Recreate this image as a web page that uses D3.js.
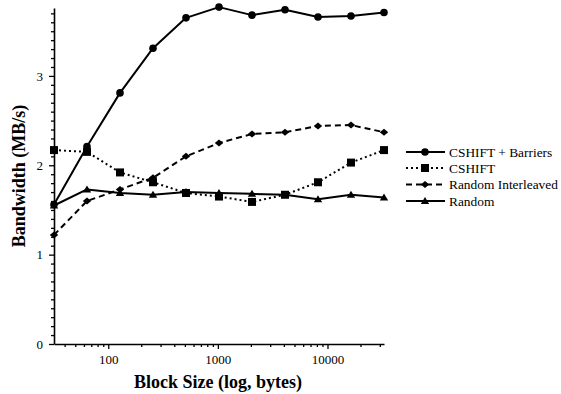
<!DOCTYPE html>
<html>
<head>
<meta charset="utf-8">
<script src="https://cdn.jsdelivr.net/npm/d3@7"></script>
<style>
  html, body { margin: 0; padding: 0; background: #fff; }
  svg { display: block; }
</style>
</head>
<body>
<svg id="chart" width="561" height="394"></svg>
<script>
// Block sizes (bytes) measured
const blockSizes = [32, 64, 128, 256, 512, 1024, 2048, 4096, 8192, 16384, 32768];

// Bandwidth (MB/s) per method
const cshiftBarriers    = [1.56, 2.21, 2.81, 3.31, 3.65, 3.77, 3.68, 3.74, 3.66, 3.67, 3.71];
const cshift            = [2.17, 2.15, 1.92, 1.81, 1.69, 1.65, 1.59, 1.67, 1.81, 2.03, 2.17];
const randomInterleaved = [1.22, 1.60, 1.73, 1.86, 2.10, 2.25, 2.35, 2.37, 2.44, 2.45, 2.37];
const randomAccess      = [1.55, 1.73, 1.69, 1.67, 1.70, 1.69, 1.68, 1.67, 1.62, 1.67, 1.64];

const seriesNames = ["CSHIFT + Barriers", "CSHIFT", "Random Interleaved", "Random"];

const xMajorTicks = [100, 1000, 10000];
const yMajorTicks = [0, 1, 2, 3];

const SERIF = '"Liberation Serif"';

const series = [
  { name: seriesNames[0], values: cshiftBarriers,    dash: null,  marker: "circle" },
  { name: seriesNames[1], values: cshift,            dash: "2,3", marker: "square" },
  { name: seriesNames[2], values: randomInterleaved, dash: "6,4", marker: "diamond" },
  { name: seriesNames[3], values: randomAccess,      dash: null,  marker: "triangle" }
];

const svg = d3.select("#chart");

const x = d3.scaleLog().domain([32, 32768]).range([54, 384]);
const y = d3.scaleLinear().domain([0, 3.76]).range([344, 8]);

// minor tick positions
const xMinor = [];
[10, 100, 1000, 10000].forEach(d => {
  for (let k = 2; k <= 9; k++) {
    const v = d * k;
    if (v >= 32 && v <= 32768) xMinor.push(v);
  }
});
const yMinor = d3.range(0, 38).map(i => i / 10).filter(v => v % 1 !== 0);

const axisG = svg.append("g");

// x axis
const xAxis = axisG.append("g").attr("transform", `translate(0,${y(0)})`);
xAxis.call(d3.axisBottom(x).tickValues(xMajorTicks).tickFormat(d3.format("d"))
  .tickSize(5).tickSizeOuter(0).tickPadding(6));
xAxis.append("g").call(d3.axisBottom(x).tickValues(xMinor).tickFormat("").tickSize(3).tickSizeOuter(0))
  .select(".domain").remove();

// y axis
const yAxis = axisG.append("g").attr("transform", `translate(${x(32)},0)`);
yAxis.call(d3.axisLeft(y).tickValues(yMajorTicks).tickFormat(d3.format("d"))
  .tickSize(5).tickSizeOuter(0).tickPadding(6));
yAxis.append("g").call(d3.axisLeft(y).tickValues(yMinor).tickFormat("").tickSize(3).tickSizeOuter(0))
  .select(".domain").remove();

axisG.selectAll(".domain").attr("stroke", "#000").attr("stroke-width", 1.6);
axisG.selectAll(".tick line").attr("stroke", "#000").attr("stroke-width", 1.3);
axisG.selectAll(".tick text")
  .style("font-family", SERIF)
  .style("font-size", "13px")
  .attr("fill", "#000");

// axis titles
svg.append("text")
  .attr("x", 218).attr("y", 388)
  .attr("text-anchor", "middle")
  .style("font-family", SERIF)
  .style("font-size", "18px").style("font-weight", "bold")
  .text("Block Size (log, bytes)");

svg.append("text")
  .attr("transform", "translate(25,176) rotate(-90)")
  .attr("text-anchor", "middle")
  .style("font-family", SERIF)
  .style("font-size", "18px").style("font-weight", "bold")
  .text("Bandwidth (MB/s)");

// marker drawing
function drawMarker(g, kind, cx, cy) {
  if (kind === "circle") {
    g.append("circle").attr("cx", cx).attr("cy", cy).attr("r", 3.8).attr("fill", "#000");
  } else if (kind === "square") {
    g.append("rect").attr("x", cx - 4).attr("y", cy - 4).attr("width", 8).attr("height", 8).attr("fill", "#000");
  } else if (kind === "diamond") {
    g.append("path").attr("d", `M${cx},${cy - 3.5}L${cx + 4.2},${cy}L${cx},${cy + 3.5}L${cx - 4.2},${cy}Z`).attr("fill", "#000");
  } else {
    g.append("path").attr("d", `M${cx},${cy - 4}L${cx + 4.2},${cy + 3}L${cx - 4.2},${cy + 3}Z`).attr("fill", "#000");
  }
}

const line = d3.line()
  .x((d, i) => x(blockSizes[i]))
  .y(d => y(d));

const plot = svg.append("g");
series.forEach(s => {
  plot.append("path")
    .datum(s.values)
    .attr("d", line)
    .attr("fill", "none")
    .attr("stroke", "#000")
    .attr("stroke-width", 2)
    .attr("stroke-linejoin", "round")
    .attr("stroke-dasharray", s.dash);
  const mg = plot.append("g");
  s.values.forEach((v, i) => drawMarker(mg, s.marker, x(blockSizes[i]), y(v)));
});

// legend
const legendRows = [152, 168, 184.5, 201];
const legend = svg.append("g");
series.forEach((s, i) => {
  const ly = legendRows[i];
  legend.append("line")
    .attr("x1", 406).attr("x2", 445).attr("y1", ly).attr("y2", ly)
    .attr("stroke", "#000").attr("stroke-width", 2)
    .attr("stroke-dasharray", s.dash);
  drawMarker(legend, s.marker, 425, ly);
  legend.append("text")
    .attr("x", 449).attr("y", ly + 4.5)
    .style("font-family", SERIF)
    .style("font-size", "13.4px")
    .text(s.name);
});
</script>
</body>
</html>
